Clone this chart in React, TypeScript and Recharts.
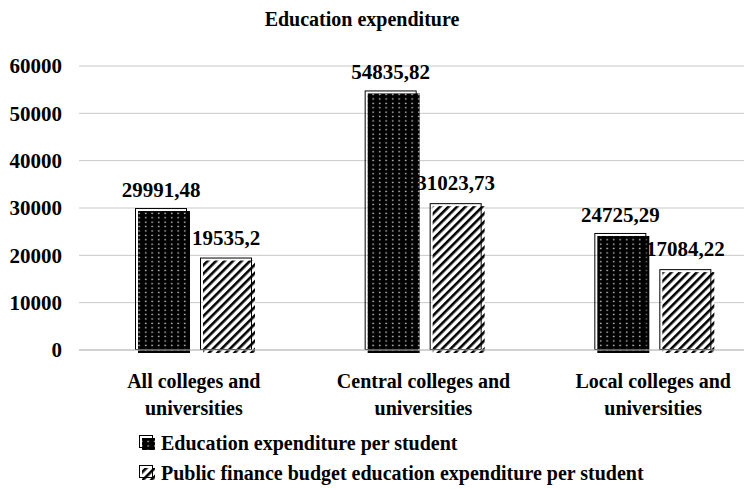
import React from 'react';
import { BarChart, Bar, XAxis, YAxis, CartesianGrid, LabelList } from 'recharts';

const categories = ['All colleges and universities', 'Central colleges and universities', 'Local colleges and universities'];
const labelLine1 = ['All colleges and', 'Central colleges and', 'Local colleges and'];
const labelLine2 = ['universities', 'universities', 'universities'];
const perStudent = [29991.48, 54835.82, 24725.29];
const publicBudget = [19535.2, 31023.73, 17084.22];
const yTicks = [0, 10000, 20000, 30000, 40000, 50000, 60000];
const seriesNames = ['Education expenditure per student', 'Public finance budget education expenditure per student'];

const data = categories.map((c, i) => ({ name: c, idx: i, perStudent: perStudent[i], publicBudget: publicBudget[i] }));

const FONT = '"Liberation Serif", "Times New Roman", serif';
const fmt = (v: any) => String(v).replace('.', ',');

const Patterns = ({ prefix }: { prefix: string }) => (
  <defs>
    <pattern id={`${prefix}dots`} patternUnits="userSpaceOnUse" width="6.5" height="4.4">
      <rect x="0" y="0" width="6.5" height="4.4" fill="#000" />
      <rect x="2" y="1.5" width="1.4" height="1.3" fill="#e6e6e6" />
    </pattern>
    <pattern id={`${prefix}hatch`} patternUnits="userSpaceOnUse" width="6" height="6" patternTransform="rotate(45)">
      <rect x="0" y="0" width="6" height="6" fill="#fff" />
      <rect x="0" y="0" width="2.6" height="6" fill="#000" />
    </pattern>
  </defs>
);

const makeShape = (pid: string) => (props: any) => {
  const { x, y, width, height } = props;
  return (
    <g>
      <rect x={x + 3} y={y + 3} width={width} height={height} fill={`url(#${pid})`} />
      <rect x={x + 0.5} y={y + 0.5} width={width - 1} height={height - 1} fill="none" stroke="#000" strokeWidth={1} />
    </g>
  );
};

const CatTick = (props: any) => {
  const { x, y, payload } = props;
  const i = categories.indexOf(payload.value);
  return (
    <text x={x} y={y} textAnchor="middle" fill="#000" fontSize={20} fontWeight="bold" fontFamily={FONT}>
      <tspan x={x} y={y + 38}>{labelLine1[i]}</tspan>
      <tspan x={x} y={y + 65}>{labelLine2[i]}</tspan>
    </text>
  );
};

const LegendIcon = ({ kind }: { kind: string }) => (
  <svg width="18" height="16" style={{ marginRight: 4, flex: 'none' }}>
    <Patterns prefix={`lg${kind}`} />
    <rect x="3" y="3" width="13" height="12" fill={`url(#lg${kind}${kind})`} />
    <rect x="0.5" y="0.5" width="13" height="12" fill="none" stroke="#000" />
  </svg>
);

export default function App() {
  return (
    <div style={{ position: 'absolute', left: 0, top: 0, width: 744, height: 490, overflow: 'hidden', background: '#fff' }}>
      <div style={{ position: 'absolute', left: 0, top: 7, width: 724, textAlign: 'center', fontFamily: FONT, fontWeight: 'bold', fontSize: 20, lineHeight: '24px', color: '#000' }}>
        Education expenditure
      </div>
      <BarChart width={790} height={490} data={data} margin={{ top: 66, right: 22, bottom: 110, left: 19 }} barSize={52} barGap={13}>
        <Patterns prefix="c" />
        <CartesianGrid vertical={false} stroke="#c8c8c8" />
        <XAxis dataKey="name" height={30} tick={<CatTick />} tickLine={false} tickSize={0} tickMargin={0} axisLine={{ stroke: '#c0c0c0' }} interval={0} />
        <YAxis width={60} domain={[0, 60000]} ticks={yTicks} axisLine={false} tickLine={false} tickSize={0} tickMargin={17}
          tick={{ fill: '#000', fontSize: 21, fontWeight: 'bold', fontFamily: FONT }} />
        <Bar dataKey="perStudent" isAnimationActive={false} shape={makeShape('cdots')}>
          <LabelList dataKey="perStudent" position="top" offset={11} formatter={fmt} fill="#000" fontSize={21} fontWeight="bold" fontFamily={FONT} />
        </Bar>
        <Bar dataKey="publicBudget" isAnimationActive={false} shape={makeShape('chatch')}>
          <LabelList dataKey="publicBudget" position="top" offset={13} formatter={fmt} fill="#000" fontSize={21} fontWeight="bold" fontFamily={FONT} />
        </Bar>
      </BarChart>
      <div style={{ position: 'absolute', left: 139, top: 428, fontFamily: FONT, fontWeight: 'bold', fontSize: 20, lineHeight: '30px', color: '#000' }}>
        {seriesNames.map((n, i) => (
          <div key={n} style={{ display: 'flex', alignItems: 'center', whiteSpace: 'nowrap' }}>
            <LegendIcon kind={i === 0 ? 'dots' : 'hatch'} />
            <span>{n}</span>
          </div>
        ))}
      </div>
    </div>
  );
}
